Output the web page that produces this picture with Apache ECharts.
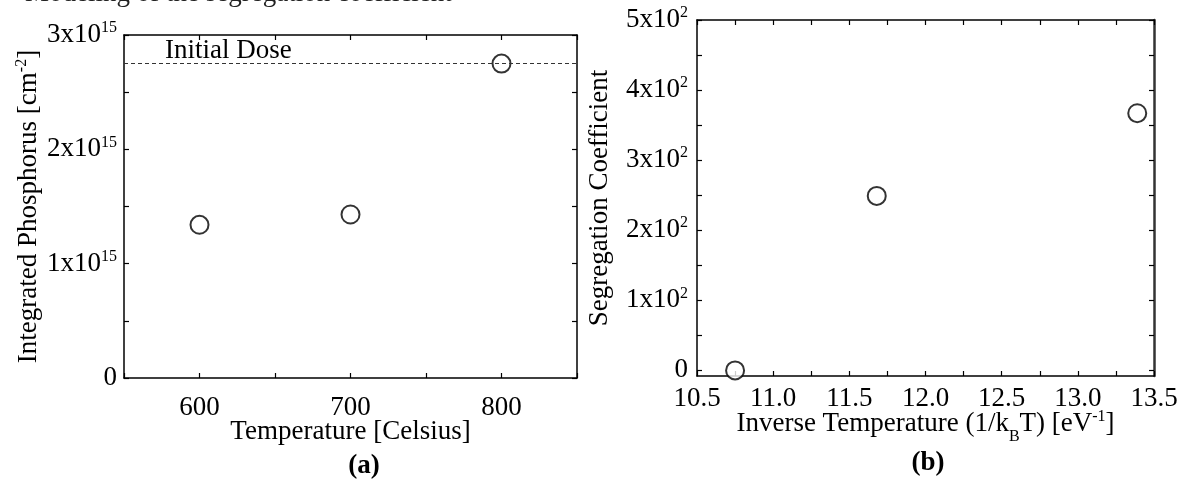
<!DOCTYPE html>
<html><head><meta charset="utf-8">
<script src="https://cdn.jsdelivr.net/npm/echarts@6/dist/echarts.min.js"></script>
<style>html,body{margin:0;padding:0;background:#fff}#c{width:1191px;height:486px}</style>
</head><body><div id="c"></div>
<script>
// Panel (a)
const tempC = [600, 700, 800];
const phosphorus = [1.34e15, 1.43e15, 2.75e15];
const initialDose = 2.75e15;
const aXTicks = [600, 700, 800];
const aYTicks = [0, 1e15, 2e15, 3e15];
// Panel (b)
const invTemp = [10.75, 11.68, 13.39];
const segCoeff = [0, 249, 367];
const bXTicks = [10.5, 11.0, 11.5, 12.0, 12.5, 13.0, 13.5];
const bYTicks = [0, 100, 200, 300, 400, 500];
const bYMinor = [0, 50, 100, 150, 200, 250, 300, 350, 400, 450, 500];

const FONT = 'Liberation Serif';
const FS = 27;
const chart = echarts.init(document.getElementById('c'), null, {renderer: 'canvas'});
const rich = {
  n: {fontFamily: FONT, fontSize: FS, color: '#000'},
  s: {fontFamily: FONT, fontSize: 16, color: '#000', verticalAlign: 'bottom', padding: [0, 0, 14, 0]},
  b: {fontFamily: FONT, fontSize: 16, color: '#000', verticalAlign: 'bottom', padding: [0, 0, -6, 0]}
};
const lineStyle = {color: '#000', width: 1.5};
function frameAxis(base, extra) {
  return Object.assign({
    axisLine: {show: true, onZero: false, lineStyle},
    axisTick: {show: true, inside: true, length: 5, lineStyle: {color: '#000', width: 1.2}},
    splitLine: {show: false},
    axisLabel: {show: false},
    nameMoveOverlap: false
  }, base, extra);
}
const aLabelY = v => v === 0 ? '{n|0}' : `{n|${Math.round(v / 1e15)}x10}{s|15}`;
const bLabelY = v => v === 0 ? '{n|0}' : `{n|${Math.round(v / 100)}x10}{s|2}`;

chart.setOption({
  animation: false,
  grid: [
    {left: 124, right: 614, top: 35, bottom: 108},
    {left: 697, right: 37, top: 20, bottom: 110}
  ],
  xAxis: [
    frameAxis({type: 'value', gridIndex: 0, min: 550, max: 850, interval: 50, position: 'bottom',
      name: 'Temperature [Celsius]', nameLocation: 'middle', nameGap: 40,
      nameTextStyle: {fontFamily: FONT, fontSize: FS, color: '#000'}},
      {axisLabel: {show: true, margin: 16, fontFamily: FONT, fontSize: FS, color: '#000',
        formatter: v => aXTicks.includes(v) ? String(v) : ''}}),
    frameAxis({type: 'value', gridIndex: 0, min: 550, max: 850, interval: 50, position: 'top'}),
    frameAxis({type: 'value', gridIndex: 1, min: 10.5, max: 13.5, interval: 0.25, position: 'bottom',
      name: '{n|Inverse Temperature (1/k}{b|B}{n|T) [eV}{s|-1}{n|]}', nameLocation: 'middle', nameGap: 33,
      nameTextStyle: {rich}},
      {axisLabel: {show: true, margin: 9, fontFamily: FONT, fontSize: FS, color: '#000',
        formatter: v => bXTicks.some(t => Math.abs(t - v) < 1e-9) ? v.toFixed(1) : ''}}),
    frameAxis({type: 'value', gridIndex: 1, min: 10.5, max: 13.5, interval: 0.25, position: 'top'})
  ],
  yAxis: [
    frameAxis({type: 'value', gridIndex: 0, min: 0, max: 3e15, interval: 0.5e15, position: 'left',
      name: '{n|Integrated Phosphorus [cm}{s|-2}{n|]}', nameLocation: 'middle', nameGap: 80, nameRotate: 90,
      nameTextStyle: {rich}},
      {axisLabel: {show: true, margin: 7, rich,
        formatter: v => aYTicks.some(t => Math.abs(t - v) < 1) ? aLabelY(v) : ''}}),
    frameAxis({type: 'value', gridIndex: 0, min: 0, max: 3e15, interval: 0.5e15, position: 'right'}),
    frameAxis({type: 'value', gridIndex: 1, min: -8, max: 500, position: 'left',
      name: 'Segregation Coefficient', nameLocation: 'middle', nameGap: 84, nameRotate: 90,
      nameTextStyle: {fontFamily: FONT, fontSize: FS, color: '#000'}},
      {axisTick: {show: true, inside: true, length: 5, customValues: bYMinor, lineStyle: {color: '#000', width: 1.2}},
       axisLabel: {show: true, margin: 9, rich, customValues: bYTicks, formatter: bLabelY}}),
    frameAxis({type: 'value', gridIndex: 1, min: -8, max: 500, position: 'right'},
      {axisLine: {show: true, onZero: false, lineStyle: {color: '#333', width: 2.5}},
       axisTick: {show: true, inside: true, length: 5, customValues: bYMinor, lineStyle: {color: '#000', width: 1.2}}})
  ],
  series: [
    {type: 'scatter', xAxisIndex: 0, yAxisIndex: 0, symbol: 'emptyCircle', symbolSize: 18,
      itemStyle: {color: '#000', borderColor: '#000', borderWidth: 1.3},
      data: tempC.map((t, i) => [t, phosphorus[i]]),
      markLine: {silent: true, symbol: 'none', animation: false,
        lineStyle: {type: [4, 3], color: '#333', width: 1},
        label: {show: true, position: 'insideStartTop', formatter: 'Initial Dose', fontFamily: FONT, fontSize: FS,
          color: '#000', padding: [0, 0, -6, 36]},
        data: [{yAxis: initialDose}]}},
    {type: 'scatter', xAxisIndex: 2, yAxisIndex: 2, symbol: 'emptyCircle', symbolSize: 18,
      itemStyle: {color: '#000', borderColor: '#000', borderWidth: 1.3},
      data: invTemp.map((t, i) => [t, segCoeff[i]])}
  ],
  graphic: [
    {type: 'text', left: 25, top: -20, style: {text: 'Modeling of the segregation coefficient', fontFamily: FONT, fontSize: FS, fill: '#222'}},
    {type: 'text', x: 364, y: 466, style: {text: '(a)', fontFamily: FONT, fontSize: FS, fontWeight: 'bold', fill: '#000', align: 'center', verticalAlign: 'middle'}},
    {type: 'text', x: 928, y: 463, style: {text: '(b)', fontFamily: FONT, fontSize: FS, fontWeight: 'bold', fill: '#000', align: 'center', verticalAlign: 'middle'}}
  ]
});
</script></body></html>
